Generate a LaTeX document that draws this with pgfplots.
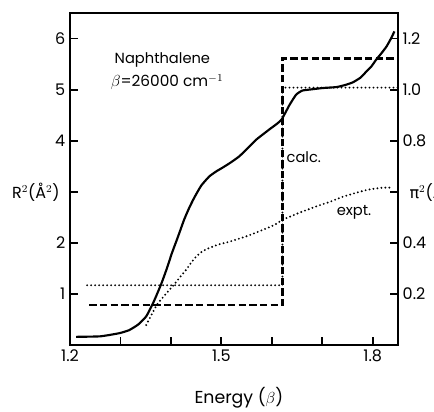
\documentclass[border=0pt]{standalone}
\usepackage{pgfplots}
\pgfplotsset{compat=1.18}
\usepackage{fontspec}
\setmainfont{Poppins}
\newfontfamily\grk{DejaVu Sans}
\pgfplotstableread{
E R
1.212 0.16
1.26 0.17
1.297 0.23
1.317 0.29
1.335 0.40
1.351 0.56
1.366 0.85
1.381 1.2
1.392 1.5
1.402 1.8
1.414 2.12
1.426 2.45
1.436 2.68
1.446 2.88
1.460 3.12
1.476 3.3
1.490 3.40
1.502 3.47
1.518 3.57
1.535 3.69
1.552 3.85
1.569 4.02
1.595 4.22
1.610 4.33
1.619 4.41
1.628 4.57
1.635 4.7
1.648 4.9
1.660 4.98
1.674 5.0
1.700 5.03
1.728 5.05
1.745 5.09
1.760 5.14
1.775 5.23
1.787 5.35
1.797 5.45
1.807 5.59
1.817 5.71
1.827 5.84
1.835 5.98
1.843 6.14
}\calcR
\pgfplotstableread{
E P
1.351 0.39
1.362 0.6
1.373 0.8
1.390 1.0
1.406 1.18
1.418 1.33
1.430 1.47
1.440 1.61
1.450 1.73
1.462 1.83
1.476 1.9
1.495 1.97
1.515 2.02
1.55 2.13
1.581 2.25
1.605 2.35
1.621 2.45
1.64 2.53
1.66 2.61
1.69 2.72
1.714 2.8
1.74 2.9
1.767 2.98
1.79 3.04
1.819 3.08
1.84 3.08
}\exptP
\begin{document}
\begin{tikzpicture}[x=1pt,y=1pt]
\tikzset{
  dotsty/.style={line width=1.6pt, line cap=round, dash pattern=on 0pt off 3pt},
  dashsty/.style={line width=1.6pt, dash pattern=on 5.5pt off 2.5pt},
}
\begin{axis}[
  at={(0,0)}, anchor=south west,
  scale only axis, width=246pt, height=249pt,
  xmin=1.2, xmax=1.85, ymin=0, ymax=6.5,
  clip=false,
  axis line style={line width=2pt},
  tick style={line width=1.4pt, black},
  major tick length=6pt,
  tick align=inside,
  xtick={1.2,1.3,1.4,1.5,1.6,1.7,1.8},
  xticklabels={1.2,,,1.5,,,1.8},
  ytick={1,2,3,4,5,6},
  yticklabels={1,2,,4,5,6},
  xtick pos=bottom, ytick pos=left,
  ticklabel style={font=\fontsize{12}{14}\selectfont},
  /pgf/number format/assume math mode=true,
]
\addplot[black, line width=1.6pt, smooth, tension=0.3] table[x=E, y=R] {\calcR};
\addplot[black, dotsty, smooth, tension=0.3] table[x=E, y=P] {\exptP};
\addplot[black, dashsty] coordinates {(1.238,0.78) (1.621,0.78) (1.621,5.61) (1.85,5.61)};
\addplot[black, dotsty] coordinates {(1.234,1.17) (1.621,1.17) (1.621,5.04) (1.85,5.04)};
\node[font=\fontsize{12}{14}\selectfont] at (rel axis cs:-0.104,0.461) {R$^2$(Å$^2$)};
\node[font=\fontsize{12}{14}\selectfont, anchor=west] at (rel axis cs:1.021,0.461) {{\grk π}$^2$(Å$^2$)};
\node[font=\fontsize{13}{15}\selectfont] at (rel axis cs:0.515,-0.16) {Energy ($\beta$)};
\node[font=\fontsize{11}{13}\selectfont, anchor=west] at (rel axis cs:0.122,0.858) {Naphthalene};
\node[font=\fontsize{11.5}{13}\selectfont, anchor=west] at (rel axis cs:0.110,0.792) {$\beta$=26000 cm$^{-1}$};
\node[font=\fontsize{11}{13}\selectfont] at (rel axis cs:0.713,0.566) {calc.};
\node[font=\fontsize{11}{13}\selectfont] at (rel axis cs:0.866,0.400) {expt.};
\end{axis}
\begin{axis}[
  at={(0,0)}, anchor=south west,
  scale only axis, width=246pt, height=249pt,
  xmin=1.2, xmax=1.85, ymin=0, ymax=1.3,
  axis y line*=right, axis x line=none,
  axis line style={line width=2pt},
  tick style={line width=1.4pt, black},
  major tick length=6pt,
  tick align=inside,
  ytick={0.2,0.4,0.6,0.8,1.0,1.2},
  yticklabels={0.2,0.4,,0.8,1.0,1.2},
  ticklabel style={font=\fontsize{12}{14}\selectfont},
  /pgf/number format/assume math mode=true,
]
\end{axis}
\pgfresetboundingbox
\path[use as bounding box] (-52.5,-49.5) rectangle (273,258.75);
\end{tikzpicture}
\end{document}
